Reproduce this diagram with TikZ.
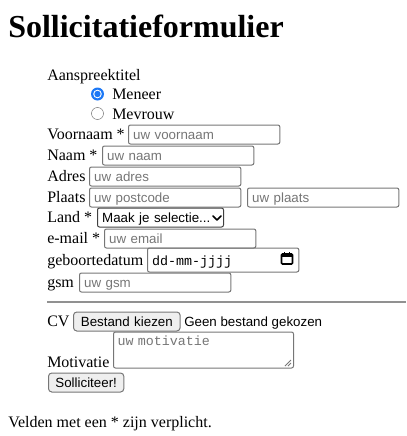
\documentclass[tikz,border=0pt]{standalone}
\usepackage{fontspec}
\setmainfont{Liberation Serif}
\newfontfamily\inputfont{Liberation Sans}
\newfontfamily\codefont{Liberation Mono}
\definecolor{fieldgray}{RGB}{118,118,118}
\definecolor{phgray}{RGB}{117,117,117}
\definecolor{btnfill}{RGB}{239,239,239}
\definecolor{radioblue}{RGB}{28,120,246}

\begin{document}
\begin{tikzpicture}[x=0.75pt,y=-0.75pt]
   \useasboundingbox (0,0) rectangle (407,436);
   \tikzstyle{lab}=[anchor=base west, inner sep=0pt, font=\fontsize{12}{14}\selectfont]
   \tikzstyle{field}=[anchor=base west, draw=fieldgray, line width=0.75pt, rounded corners=1.5pt, inner xsep=3.5pt, inner ysep=0pt, text height=10.5pt, text depth=3.75pt, text width=106.5pt, align=left, font=\inputfont\fontsize{10}{12}\selectfont, text=phgray]
   \tikzstyle{button}=[field, fill=btnfill, text=black, align=center, rounded corners=2.5pt]
   \tikzstyle{radio}=[circle, inner sep=0pt, minimum size=9.75pt]
   \node[lab, font=\fontsize{24}{28}\selectfont\bfseries] (title) at (8,37) {Sollicitatieformulier};
   \node[lab] (aanspreek) at (47,80) {Aanspreektitel};
   \node[radio, fill=radioblue] (rmeneer) at (97.5,94) {};
   \fill[white] (rmeneer) circle (4.3);
   \fill[radioblue] (rmeneer) circle (3.2);
   \node[lab] (meneer) at (112,99) {Meneer};
   \node[radio, draw=fieldgray, minimum size=9pt] (rmevrouw) at (97.5,113.5) {};
   \node[lab] (mevrouw) at (112,119) {Mevrouw};
   \foreach \n/\lab/\by/\fx/\ph in {voornaam/{Voornaam *}/139/128/{uw voornaam},
       naam/{Naam *}/160/102/{uw naam}, adres/{Adres}/181/89/{uw adres},
       postcode/{Plaats}/202/89/{uw postcode}, email/{e-mail *}/243/104/{uw email},
       gsm/{gsm}/287/79/{uw gsm}} {
       \node[lab] (l\n) at (47,\by) {\lab};
       \node[field] (f\n) at (\fx,\by) {\ph};
   }
   \node[field] (fplaats) at (247,202) {uw plaats};
   \node[lab] (lland) at (47,222) {Land *};
   \node[field, draw=black!75, text=black, text width=87.5pt] (fland) at (97,222) {Maak je selectie...};
   \draw[line width=1.3pt, line cap=round, line join=round] (213,216) -- (217,220) -- (221,216);
   \node[lab] (ldatum) at (47,265) {geboortedatum};
   \node[field, text=black, text height=12.75pt, text depth=5.25pt, font=\codefont\fontsize{10}{12}\selectfont] (fdatum) at (147,265) {dd-mm-jjjj};
   \draw[line width=1.2pt, rounded corners=0.8pt] (281.5,254) rectangle (292.5,264);
   \fill (281.5,254) rectangle (292.5,257);
   \draw[line width=1.2pt] (284.5,252) -- (284.5,254) (289.5,252) -- (289.5,254);
   \coordinate (hrleft) at (47,302);
   \coordinate (hrright) at (406,302);
   \draw[fieldgray!80, line width=0.9pt] (hrleft) -- (hrright);
   \node[lab] (lcv) at (47,326) {CV};
   \node[button, text width=73pt] (bkiezen) at (73,326) {Bestand kiezen};
   \node[lab, font=\inputfont\fontsize{10}{12}\selectfont] (gekozen) at (184,326) {Geen bestand gekozen};
   \node[lab] (lmotivatie) at (47,367) {Motivatie};
   \node[field, inner xsep=3pt, text height=9.75pt, text depth=17.25pt, text width=129pt, font=\codefont\fontsize{10}{12}\selectfont] (fmotivatie) at (113,345) {uw motivatie};
   \draw[fieldgray, line width=0.6pt] (285,366) -- (291,360) (288,366) -- (291,363);
   \node[button, text width=49.5pt] (bsolliciteer) at (48,387) {Solliciteer!};
   \node[lab] (velden) at (8,427) {Velden met een * zijn verplicht.};
\end{tikzpicture}
\end{document}
